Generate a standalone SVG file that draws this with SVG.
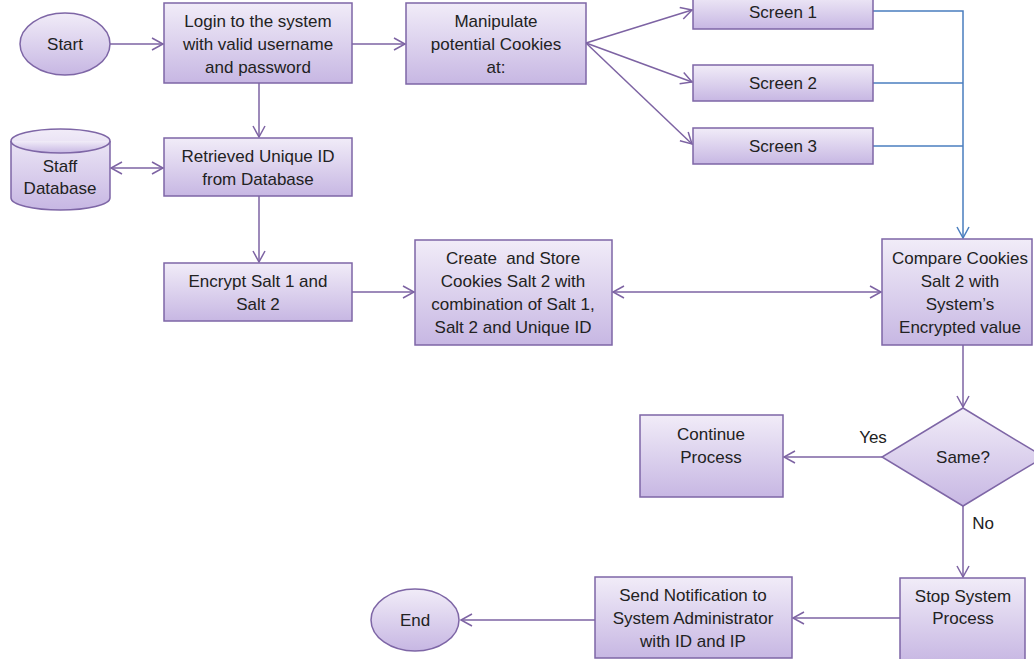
<svg xmlns="http://www.w3.org/2000/svg" width="1034" height="659" viewBox="0 0 1034 659">
<defs>
<linearGradient id="g" x1="0" y1="0" x2="0" y2="1">
<stop offset="0" stop-color="#f1ecf8"/>
<stop offset="1" stop-color="#c7b7e3"/>
</linearGradient>
<marker id="a" markerWidth="14" markerHeight="14" refX="12" refY="7" orient="auto" markerUnits="userSpaceOnUse">
<polyline points="1,1 12,7 1,13" fill="none" stroke="#7d63a3" stroke-width="1.5"/>
</marker>
<marker id="as" markerWidth="14" markerHeight="14" refX="12" refY="7" orient="auto-start-reverse" markerUnits="userSpaceOnUse">
<polyline points="1,1 12,7 1,13" fill="none" stroke="#7d63a3" stroke-width="1.5"/>
</marker>
<marker id="ab" markerWidth="14" markerHeight="14" refX="12" refY="7" orient="auto" markerUnits="userSpaceOnUse">
<polyline points="1,1 12,7 1,13" fill="none" stroke="#4a7ebf" stroke-width="1.5"/>
</marker>
</defs>
<style>
.n{fill:url(#g);stroke:#7e66a6;stroke-width:1.5}
.t{font-family:"Liberation Sans",Arial,sans-serif;font-size:17px;fill:#222;text-anchor:middle;dominant-baseline:central}
.p{white-space:pre}
.c{fill:none;stroke:#7d63a3;stroke-width:1.5}
.b{fill:none;stroke:#4a7ebf;stroke-width:1.5}
</style>
<rect width="1034" height="659" fill="#fff"/>
<g id="connectors">
<line class="c" x1="110" y1="44" x2="163" y2="44" marker-end="url(#a)"/>
<line class="c" x1="352" y1="44" x2="405" y2="44" marker-end="url(#a)"/>
<line class="c" x1="586" y1="43" x2="692" y2="10" marker-end="url(#a)"/>
<line class="c" x1="586" y1="43" x2="692" y2="82" marker-end="url(#a)"/>
<line class="c" x1="586" y1="43" x2="692" y2="144" marker-end="url(#a)"/>
<polyline class="b" points="873,11 963,11 963,238" marker-end="url(#ab)"/>
<line class="b" x1="873" y1="83" x2="963" y2="83"/>
<line class="b" x1="873" y1="146" x2="963" y2="146"/>
<line class="c" x1="259" y1="83" x2="259" y2="137" marker-end="url(#a)"/>
<line class="c" x1="111" y1="168" x2="163" y2="168" marker-start="url(#as)" marker-end="url(#a)"/>
<line class="c" x1="259" y1="196" x2="259" y2="262" marker-end="url(#a)"/>
<line class="c" x1="352" y1="292" x2="414" y2="292" marker-end="url(#a)"/>
<line class="c" x1="613" y1="292" x2="881" y2="292" marker-start="url(#as)" marker-end="url(#a)"/>
<line class="c" x1="963" y1="345" x2="963" y2="407" marker-end="url(#a)"/>
<line class="c" x1="882" y1="457" x2="784" y2="457" marker-end="url(#a)"/>
<line class="c" x1="963" y1="506" x2="963" y2="577" marker-end="url(#a)"/>
<line class="c" x1="900" y1="618" x2="793" y2="618" marker-end="url(#a)"/>
<line class="c" x1="595" y1="620" x2="461" y2="620" marker-end="url(#a)"/>
</g>
<g id="start"><ellipse class="n" cx="65" cy="44" rx="45" ry="31"/><text class="t" x="65" y="44">Start</text></g>
<g id="login"><rect class="n" x="164" y="3" width="188" height="80"/><text class="t" x="258" y="21">Login to the system</text><text class="t" x="258" y="44">with valid username</text><text class="t" x="258" y="67">and password</text></g>
<g id="manipulate"><rect class="n" x="406" y="3" width="180" height="81"/><text class="t" x="496" y="21">Manipulate</text><text class="t" x="496" y="44">potential Cookies</text><text class="t" x="496" y="67">at:</text></g>
<g id="screen1"><rect class="n" x="693" y="-6" width="180" height="35"/><text class="t" x="783" y="12">Screen 1</text></g>
<g id="screen2"><rect class="n" x="693" y="65" width="180" height="36"/><text class="t" x="783" y="83">Screen 2</text></g>
<g id="screen3"><rect class="n" x="693" y="128" width="180" height="36"/><text class="t" x="783" y="146">Screen 3</text></g>
<g id="db"><path class="n" d="M11,141 L11,198 A49.5,12 0 0 0 110,198 L110,141 A49.5,12 0 0 0 11,141 Z"/><path class="n" d="M11,141 A49.5,12 0 0 0 110,141" fill="none"/><text class="t" x="60" y="166">Staff</text><text class="t" x="60" y="188">Database</text></g>
<g id="retrieved"><rect class="n" x="164" y="138" width="188" height="58"/><text class="t" x="258" y="156">Retrieved Unique ID</text><text class="t" x="258" y="179">from Database</text></g>
<g id="encrypt"><rect class="n" x="164" y="263" width="188" height="58"/><text class="t" x="258" y="281">Encrypt Salt 1 and</text><text class="t" x="258" y="304">Salt 2</text></g>
<g id="create"><rect class="n" x="415" y="240" width="197" height="105"/><text class="t p" x="513" y="258">Create  and Store</text><text class="t" x="513" y="281">Cookies Salt 2 with</text><text class="t" x="513" y="304">combination of Salt 1,</text><text class="t" x="513" y="327">Salt 2 and Unique ID</text></g>
<g id="compare"><rect class="n" x="882" y="239" width="150" height="106"/><text class="t" x="960" y="258">Compare Cookies</text><text class="t" x="960" y="281">Salt 2 with</text><text class="t" x="960" y="304">System’s</text><text class="t" x="960" y="327">Encrypted value</text></g>
<g id="same"><polygon class="n" points="963,408 1044,457 963,506 882,457"/><text class="t" x="963" y="457">Same?</text></g>
<g id="continue"><rect class="n" x="640" y="415" width="143" height="82"/><text class="t" x="711" y="434">Continue</text><text class="t" x="711" y="457">Process</text></g>
<text class="t" x="873" y="437">Yes</text>
<text class="t" x="983" y="523">No</text>
<g id="stop"><rect class="n" x="900" y="578" width="125" height="85"/><text class="t" x="963" y="596">Stop System</text><text class="t" x="963" y="618">Process</text></g>
<g id="send"><rect class="n" x="595" y="577" width="197" height="81"/><text class="t" x="693" y="595">Send Notification to</text><text class="t" x="693" y="618">System Administrator</text><text class="t" x="693" y="641">with ID and IP</text></g>
<g id="end"><ellipse class="n" cx="415" cy="620" rx="44" ry="31"/><text class="t" x="415" y="620">End</text></g>
</svg>
